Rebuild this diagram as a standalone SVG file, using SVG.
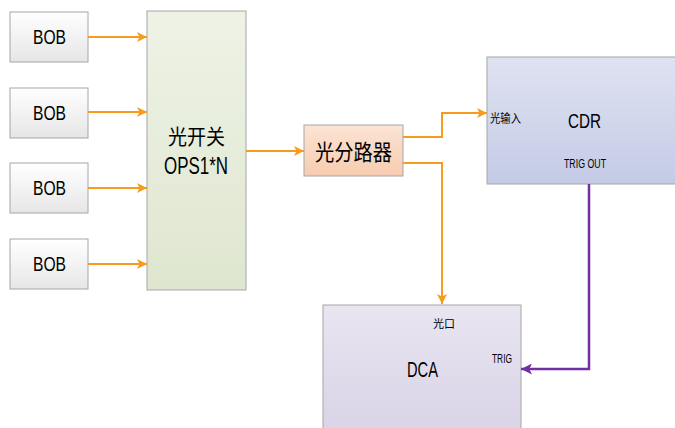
<svg xmlns="http://www.w3.org/2000/svg" width="675" height="428" viewBox="0 0 675 428">
<defs>
<linearGradient id="gBob" x1="0" y1="0" x2="0" y2="1"><stop offset="0" stop-color="#ffffff"/><stop offset="1" stop-color="#e6e6e6"/></linearGradient>
<linearGradient id="gOps" x1="0" y1="0" x2="0" y2="1"><stop offset="0" stop-color="#eef3e6"/><stop offset="1" stop-color="#dfe6cf"/></linearGradient>
<linearGradient id="gSpl" x1="0" y1="0" x2="0" y2="1"><stop offset="0" stop-color="#fce4d4"/><stop offset="1" stop-color="#f6ccb0"/></linearGradient>
<linearGradient id="gCdr" x1="0" y1="0" x2="0" y2="1"><stop offset="0" stop-color="#dfe2f1"/><stop offset="1" stop-color="#c4cbe6"/></linearGradient>
<linearGradient id="gDca" x1="0" y1="0" x2="0" y2="1"><stop offset="0" stop-color="#e9e5f1"/><stop offset="1" stop-color="#d9d3e6"/></linearGradient>
<marker id="aO" viewBox="0 0 10 10" refX="10" refY="5" markerWidth="10" markerHeight="10" orient="auto" markerUnits="userSpaceOnUse"><path d="M0,0 L10,5 L0,10 L2.5,5 Z" fill="#f79b1c"/></marker>
<marker id="aP" viewBox="0 0 10 10" refX="10" refY="5" markerWidth="11" markerHeight="11" orient="auto" markerUnits="userSpaceOnUse"><path d="M0,0 L10,5 L0,10 L2.5,5 Z" fill="#7030a0"/></marker>
</defs>
<style>
.box{stroke:#a6a6a6;stroke-width:1}
.lat{font-family:"Liberation Sans","Noto Sans CJK SC",sans-serif;fill:#000}
.cjk{font-family:"Noto Sans CJK SC",sans-serif;fill:#000}
.o{fill:none;stroke:#f79b1c;stroke-width:2}
.p{fill:none;stroke:#7030a0;stroke-width:2.5}
</style>
<rect width="675" height="428" fill="#ffffff"/>
<g id="bob1"><rect class="box" x="10" y="12" width="78" height="50" fill="url(#gBob)"/><text class="lat" x="33" y="43.5" font-size="21" textLength="33" lengthAdjust="spacingAndGlyphs">BOB</text></g>
<g id="bob2"><rect class="box" x="10" y="88" width="78" height="50" fill="url(#gBob)"/><text class="lat" x="33" y="119.5" font-size="21" textLength="33" lengthAdjust="spacingAndGlyphs">BOB</text></g>
<g id="bob3"><rect class="box" x="10" y="163" width="78" height="50" fill="url(#gBob)"/><text class="lat" x="33" y="194.5" font-size="21" textLength="33" lengthAdjust="spacingAndGlyphs">BOB</text></g>
<g id="bob4"><rect class="box" x="10" y="239" width="78" height="50" fill="url(#gBob)"/><text class="lat" x="33" y="270.5" font-size="21" textLength="33" lengthAdjust="spacingAndGlyphs">BOB</text></g>
<g id="ops"><rect class="box" x="147" y="11" width="99" height="279" fill="url(#gOps)"/><text class="cjk" x="168" y="143.5" font-size="21" fill="#333" textLength="57" lengthAdjust="spacingAndGlyphs">光开关</text><text class="lat" x="164" y="174" font-size="23" textLength="64" lengthAdjust="spacingAndGlyphs">OPS1*N</text></g>
<g id="splitter"><rect class="box" x="304" y="125" width="99" height="51" fill="url(#gSpl)"/><text class="cjk" x="315" y="159.5" font-size="22" fill="#222" textLength="77" lengthAdjust="spacingAndGlyphs">光分路器</text></g>
<g id="cdr"><rect class="box" x="487" y="57" width="200" height="127" fill="url(#gCdr)"/><text class="cjk" x="490" y="122.5" font-size="12" fill="#333" textLength="31" lengthAdjust="spacingAndGlyphs">光输入</text><text class="lat" x="568" y="128" font-size="21" textLength="33" lengthAdjust="spacingAndGlyphs">CDR</text><text class="lat" x="564" y="168" font-size="12" fill="#222" textLength="42" lengthAdjust="spacingAndGlyphs">TRIG OUT</text></g>
<g id="dca"><rect class="box" x="323" y="305" width="198" height="130" fill="url(#gDca)"/><text class="cjk" x="433" y="327.5" font-size="11.5" fill="#333" textLength="22" lengthAdjust="spacingAndGlyphs">光口</text><text class="lat" x="407" y="377" font-size="22" textLength="31" lengthAdjust="spacingAndGlyphs">DCA</text><text class="lat" x="492" y="362.5" font-size="12" fill="#222" textLength="20" lengthAdjust="spacingAndGlyphs">TRIG</text></g>
<g id="connectors">
<path class="o" d="M88,37 H147" marker-end="url(#aO)"/>
<path class="o" d="M88,112 H147" marker-end="url(#aO)"/>
<path class="o" d="M88,188 H147" marker-end="url(#aO)"/>
<path class="o" d="M88,264 H147" marker-end="url(#aO)"/>
<path class="o" d="M246,151 H304" marker-end="url(#aO)"/>
<path class="o" d="M403,137 H442 V113 H487" marker-end="url(#aO)"/>
<path class="o" d="M403,163 H442 V304" marker-end="url(#aO)"/>
<path class="p" d="M589,184 V369 H521" marker-end="url(#aP)"/>
</g>
</svg>
